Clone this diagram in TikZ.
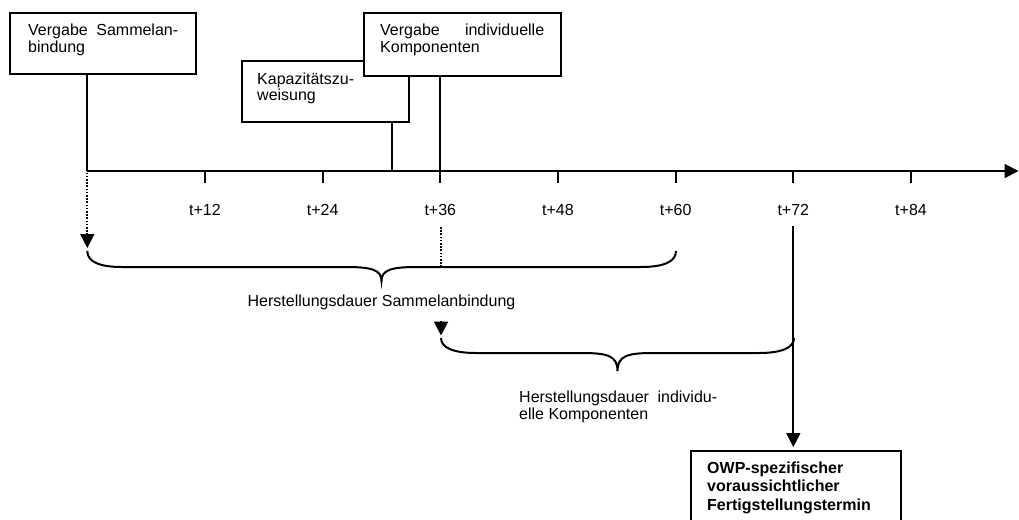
\documentclass[tikz,border=0pt]{standalone}
\usepackage{fontspec}
\setmainfont{Liberation Sans}
\usetikzlibrary{arrows.meta}
\begin{document}
\begin{tikzpicture}[x=1pt,y=-1pt,
  ln/.style={line width=2pt},
  boxn/.style={draw,line width=2pt,fill=white,inner sep=0pt,anchor=north west},
  txt/.style={inner sep=0pt,anchor=base west,font=\fontsize{16}{17}\selectfont},
  boldtxt/.style={inner sep=0pt,anchor=base west,font=\bfseries\fontsize{16}{18.5}\selectfont},
  tip/.style={-{Triangle[length=14pt,width=14pt]}},
  dots/.style={line width=1.8pt,dash pattern=on 1.6pt off 1.6pt}]
\useasboundingbox (0,0) rectangle (1019,519);

% axis coordinates
\coordinate (o) at (87.3,171);
\coordinate (axend) at (1018.5,171);
\coordinate (kap) at (392,171);
\coordinate (lab) at (0,215);
\foreach \i in {1,...,7} {\coordinate (k\i) at ({87.3+117.67*\i},171);}

% axis and ticks
\draw[ln,tip] (o) -- (axend);
\foreach \i in {1,...,7} {
  \draw[ln] (k\i) -- ++(0,12);
  \pgfmathtruncatemacro\m{12*\i}
  \node[txt,anchor=base] (l\i) at (k\i |- lab) {t+\m};
}

% boxes
\node[boxn,minimum width=186pt,minimum height=61pt] (b1) at (9,12) {};
\node[txt] (t1) at (28,36) {\begin{tabular}[t]{@{}l@{}}\makebox[150pt][s]{Vergabe Sammelan-}\\bindung\end{tabular}};

\node[boxn,minimum width=167pt,minimum height=61pt] (b2) at (241,60) {};
\node[txt] (t2) at (257,84) {\begin{tabular}[t]{@{}l@{}}Kapazitätszu-\\weisung\end{tabular}};

\node[boxn,minimum width=197pt,minimum height=63pt] (b3) at (363,12) {};
\node[txt] (t3) at (380,36) {\begin{tabular}[t]{@{}l@{}}\makebox[164pt][s]{Vergabe individuelle}\\Komponenten\end{tabular}};

% connectors from boxes to axis
\draw[ln] (b1.south -| o) -- (o);
\draw[ln] (b2.south -| kap) -- (kap);
\draw[ln] (b3.south -| k3) -- (k3);

% dotted arrow to first brace
\coordinate (a1) at (87.3,248);
\draw[dots,tip] (o) ++(0,1.5) -- (a1);

% brace 1
\draw[ln] (87.3,251) .. controls (87.3,262) and (100,267) .. (122,267) -- (346,267)
  .. controls (372,267) and (381.5,270) .. (381.5,281)
  .. controls (381.5,270) and (391,267) .. (417,267) -- (641,267)
  .. controls (663,267) and (676,262) .. (676,251);
\coordinate (d1) at (441,227);
\coordinate (d2) at (441,266);
\draw[dots] (d1) -- (d2);
\node[txt,anchor=base] (h1) at (381.5,306) {Herstellungsdauer Sammelanbindung};

% arrow to second brace
\coordinate (a2s) at (441,321);
\coordinate (a2e) at (441,335.5);
\draw[ln,tip] (a2s) -- (a2e);

% brace 2
\draw[ln] (441,338) .. controls (441,348) and (454,353) .. (476,353) -- (582,353)
  .. controls (608,353) and (617.5,356) .. (617.5,371)
  .. controls (617.5,356) and (627,353) .. (653,353) -- (759,353)
  .. controls (781,353) and (794,348) .. (794,338);
\node[txt] (h2) at (519,402) {\begin{tabular}[t]{@{}l@{}}\makebox[198pt][s]{Herstellungsdauer individu-}\\elle Komponenten\end{tabular}};

% final box
\node[boxn,minimum width=210pt,minimum height=100pt] (owp) at (690,450) {};
\node[boldtxt] (t4) at (707,473) {\begin{tabular}[t]{@{}l@{}}OWP-spezifischer\\voraussichtlicher\\Fertigstellungstermin\end{tabular}};

\coordinate (v72) at (k6 |- 0,226);
\draw[ln,tip,shorten >=3pt] (v72) -- (owp.north -| k6);
\end{tikzpicture}
\end{document}
